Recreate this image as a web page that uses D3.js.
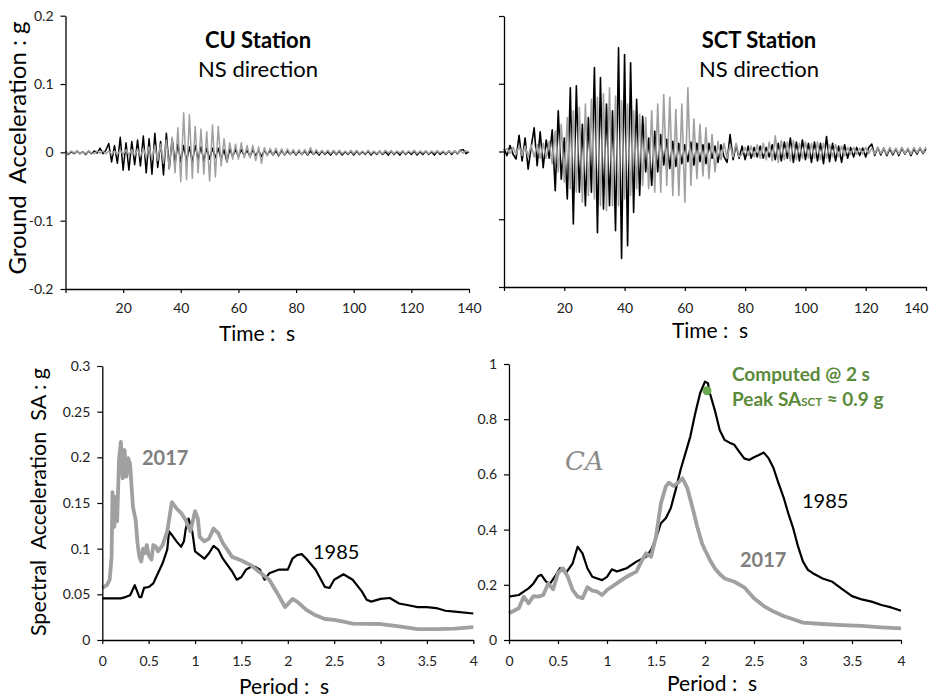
<!DOCTYPE html>
<html>
<head>
<meta charset="utf-8">
<script src="https://cdn.jsdelivr.net/npm/d3@7"></script>
<style>
body { margin: 0; background: #fff; }
svg text { font-family: Lato, "Open Sans", sans-serif; }
</style>
</head>
<body>
<svg width="929" height="700"></svg>
<script>
'use strict';

// ground acceleration (g), one sample per second, t = 0..140 s
const dt = 1;
const cu85 = [
  0.002,-0.003,0.001,-0.002,0.002,-0.002,0.001,-0.003,0.002,-0.002,
  0.002,-0.001,0.006,-0.002,0.003,0.013,-0.014,0.010,-0.016,0.022,
  -0.026,0.014,-0.026,0.016,-0.018,0.018,-0.020,0.024,-0.030,0.020,
  -0.032,0.028,-0.022,0.016,-0.033,0.028,-0.024,0.020,-0.016,0.012,
  -0.014,0.010,-0.012,0.008,-0.014,0.010,-0.010,0.008,-0.012,0.006,
  -0.010,0.006,-0.008,0.006,-0.010,0.004,-0.014,0.005,-0.006,0.004,
  -0.006,0.004,-0.005,0.003,-0.006,0.004,-0.005,0.003,-0.006,0.003,
  -0.004,0.003,-0.004,0.002,-0.005,0.003,-0.004,0.002,-0.003,0.002,
  -0.004,0.002,-0.003,0.002,-0.004,0.002,-0.003,0.001,-0.004,0.002,
  -0.003,0.001,-0.004,0.002,-0.003,0.002,-0.004,0.001,-0.003,0.002,
  -0.004,0.002,-0.003,0.001,-0.003,0.002,-0.004,0.001,-0.003,0.002,
  -0.003,0.001,-0.004,0.002,-0.003,0.001,-0.004,0.002,-0.003,0.001,
  -0.003,0.002,-0.004,0.001,-0.003,0.002,-0.003,0.001,-0.004,0.002,
  -0.003,0.001,-0.003,0.002,-0.003,0.002,-0.002,0.003,0.004,-0.002,
  0.001];
const cu17 = [
  0.001,-0.002,0.002,-0.001,0.002,-0.002,0.001,-0.002,0.002,-0.001,
  -0.002,0.002,-0.001,0.002,-0.002,0.002,-0.003,0.002,-0.003,0.003,
  -0.003,0.004,-0.004,0.004,-0.005,0.005,-0.006,0.006,-0.008,0.008,
  -0.010,0.010,-0.012,0.012,-0.016,0.018,-0.024,0.022,-0.030,0.036,
  -0.043,0.058,-0.040,0.055,-0.038,0.038,-0.030,0.034,-0.032,0.030,
  -0.042,0.040,-0.036,0.038,-0.020,0.020,-0.014,0.014,-0.010,0.012,
  -0.010,0.014,-0.008,0.010,-0.008,0.010,-0.012,0.008,-0.016,0.007,
  -0.005,0.006,-0.004,0.006,-0.004,0.005,-0.004,0.005,-0.003,0.004,
  -0.003,0.004,-0.003,0.004,-0.003,0.007,-0.003,0.004,-0.002,0.003,
  -0.002,0.003,-0.002,0.003,-0.002,0.003,-0.002,0.002,-0.002,0.003,
  -0.002,0.003,-0.002,0.002,-0.002,0.003,-0.002,0.002,-0.002,0.002,
  -0.002,0.003,-0.001,0.002,-0.002,0.002,-0.001,0.002,-0.002,0.002,
  -0.001,0.003,-0.002,0.002,-0.001,0.002,-0.002,0.002,-0.001,0.002,
  -0.001,0.002,-0.002,0.002,-0.001,0.002,-0.001,0.002,-0.001,0.002,
  0.001];
const sct85 = [
  0.004,-0.006,0.009,-0.004,-0.011,0.024,-0.014,0.020,-0.026,0.006,
  0.035,-0.021,0.029,-0.024,0.017,-0.010,0.032,-0.058,0.060,-0.041,
  0.020,-0.070,0.094,-0.107,0.097,-0.060,0.040,-0.080,0.050,-0.060,
  0.124,-0.120,0.109,-0.085,0.070,-0.080,0.060,-0.117,0.153,-0.158,
  0.143,-0.139,0.131,-0.090,0.077,-0.065,0.052,-0.030,0.020,-0.050,
  0.030,-0.030,0.025,-0.020,0.018,-0.025,0.015,-0.022,0.012,-0.018,
  0.010,-0.015,0.014,-0.020,0.012,-0.015,0.010,-0.018,0.012,-0.010,
  0.008,-0.016,0.010,-0.008,-0.016,0.025,-0.012,0.010,-0.010,0.008,
  -0.012,0.008,-0.010,0.006,-0.008,0.008,-0.010,0.006,-0.008,0.010,
  -0.012,0.012,-0.014,0.014,-0.010,0.020,-0.016,0.014,-0.014,0.017,
  -0.012,0.012,-0.016,0.014,-0.014,0.012,-0.018,0.022,-0.015,0.012,
  -0.014,0.008,-0.016,0.010,-0.010,0.006,-0.008,0.006,-0.006,0.005,
  -0.008,0.006,0.011,-0.006,0.006,-0.005,0.005,-0.006,0.004,-0.005,
  0.004,-0.006,0.005,-0.004,0.004,-0.006,0.004,-0.004,0.005,-0.003,
  0.004];
const sct17 = [
  0.002,0.004,-0.003,0.006,-0.004,0.008,-0.006,0.008,-0.008,0.010,
  -0.008,0.010,-0.010,0.012,-0.010,0.015,-0.018,0.030,-0.030,0.040,
  -0.045,0.050,-0.055,0.060,-0.060,0.065,-0.075,0.070,-0.065,0.077,
  -0.070,0.080,-0.080,0.085,-0.087,0.094,-0.080,0.082,-0.080,0.075,
  -0.070,0.070,-0.065,0.060,-0.055,0.055,-0.050,0.050,-0.055,0.060,
  -0.060,0.070,-0.060,0.084,-0.050,0.080,-0.065,0.062,-0.065,0.070,
  -0.075,0.094,-0.050,0.048,-0.040,0.040,-0.036,0.035,-0.040,0.025,
  -0.030,0.015,-0.012,0.012,-0.010,0.010,-0.008,0.012,-0.008,-0.004,
  0.006,-0.006,0.008,-0.008,0.010,-0.010,0.012,-0.012,0.014,-0.014,
  0.023,-0.016,0.016,-0.012,0.014,-0.014,0.016,-0.012,0.012,-0.010,
  0.014,-0.010,0.012,-0.010,0.014,-0.012,0.012,-0.010,0.010,-0.008,
  0.010,-0.008,0.008,-0.006,0.006,-0.004,0.006,-0.004,0.005,-0.004,
  0.006,-0.003,0.005,-0.004,0.006,-0.003,0.005,-0.004,0.006,-0.003,
  0.005,-0.004,0.006,-0.003,0.005,-0.004,0.006,-0.002,0.006,-0.002,
  0.007];

// response spectra: period (s) and SA (g)
const cu17T = [0,0.05,0.08,0.1,0.11,0.13,0.15,0.16,0.18,0.2,0.22,0.24,0.26,0.28,0.3,0.33,0.36,0.38,0.4,0.42,0.44,0.46,0.48,0.5,0.53,0.55,0.58,0.6,0.65,0.7,0.75,0.8,0.85,0.9,0.95,1.0,1.03,1.05,1.1,1.15,1.2,1.25,1.3,1.4,1.5,1.6,1.7,1.8,1.9,1.97,2.05,2.1,2.2,2.3,2.4,2.5,2.6,2.7,3.0,3.2,3.4,3.6,3.8,4.0];
const cu17SA = [0.057,0.060,0.066,0.091,0.162,0.124,0.157,0.130,0.197,0.217,0.177,0.208,0.179,0.199,0.192,0.146,0.131,0.106,0.091,0.086,0.100,0.095,0.104,0.093,0.088,0.104,0.102,0.097,0.104,0.119,0.151,0.144,0.139,0.131,0.119,0.141,0.133,0.113,0.108,0.111,0.122,0.117,0.106,0.091,0.087,0.082,0.074,0.066,0.049,0.036,0.045,0.042,0.033,0.027,0.023,0.022,0.020,0.018,0.0175,0.015,0.012,0.012,0.0124,0.014];
const cu85T = [0,0.2,0.25,0.3,0.35,0.4,0.42,0.45,0.5,0.55,0.6,0.65,0.7,0.72,0.75,0.8,0.85,0.88,0.9,0.93,0.97,1.0,1.1,1.15,1.2,1.25,1.3,1.35,1.4,1.45,1.5,1.55,1.6,1.65,1.7,1.75,1.8,1.9,2.0,2.05,2.1,2.15,2.2,2.3,2.4,2.45,2.5,2.6,2.7,2.8,2.85,2.9,3.0,3.1,3.2,3.3,3.4,3.5,3.6,3.7,3.8,4.0];
const cu85SA = [0.0456,0.0456,0.047,0.049,0.060,0.047,0.047,0.057,0.058,0.062,0.073,0.084,0.099,0.119,0.115,0.108,0.102,0.108,0.122,0.133,0.119,0.097,0.089,0.095,0.103,0.099,0.089,0.082,0.075,0.066,0.069,0.077,0.080,0.080,0.077,0.066,0.073,0.077,0.077,0.089,0.093,0.094,0.089,0.077,0.058,0.057,0.066,0.072,0.066,0.053,0.044,0.042,0.045,0.046,0.040,0.038,0.036,0.036,0.035,0.032,0.031,0.029];
const sct85T = [0,0.1,0.15,0.2,0.25,0.3,0.33,0.38,0.42,0.48,0.52,0.58,0.65,0.7,0.75,0.8,0.85,0.9,0.95,1.0,1.05,1.1,1.15,1.2,1.3,1.4,1.45,1.5,1.55,1.6,1.65,1.7,1.75,1.8,1.85,1.9,1.95,2.0,2.03,2.05,2.1,2.15,2.2,2.25,2.3,2.35,2.4,2.45,2.5,2.55,2.6,2.65,2.7,2.75,2.8,2.85,2.9,2.95,3.0,3.05,3.1,3.2,3.3,3.4,3.5,3.6,3.7,3.8,3.9,4.0];
const sct85SA = [0.157,0.163,0.175,0.187,0.205,0.232,0.236,0.211,0.205,0.236,0.26,0.242,0.278,0.338,0.314,0.26,0.229,0.223,0.217,0.229,0.256,0.248,0.254,0.26,0.284,0.302,0.326,0.368,0.423,0.441,0.477,0.543,0.616,0.676,0.737,0.821,0.894,0.936,0.930,0.894,0.833,0.761,0.725,0.715,0.707,0.682,0.658,0.652,0.662,0.670,0.679,0.658,0.622,0.568,0.519,0.459,0.405,0.338,0.284,0.254,0.242,0.223,0.211,0.184,0.159,0.147,0.139,0.127,0.118,0.106];
const sct17T = [0,0.1,0.15,0.2,0.25,0.3,0.35,0.4,0.45,0.5,0.55,0.6,0.65,0.7,0.75,0.8,0.85,0.9,0.95,1.0,1.1,1.2,1.3,1.35,1.4,1.45,1.5,1.55,1.6,1.63,1.68,1.72,1.77,1.82,1.87,1.92,1.97,2.0,2.05,2.1,2.15,2.2,2.3,2.4,2.5,2.6,2.7,2.8,2.9,3.0,3.2,3.4,3.6,3.8,4.0];
const sct17SA = [0.097,0.115,0.157,0.133,0.159,0.157,0.163,0.205,0.184,0.242,0.26,0.229,0.181,0.157,0.151,0.191,0.179,0.175,0.163,0.181,0.205,0.229,0.248,0.284,0.314,0.302,0.374,0.495,0.556,0.570,0.558,0.568,0.586,0.550,0.483,0.411,0.350,0.326,0.290,0.260,0.239,0.223,0.211,0.191,0.151,0.123,0.103,0.087,0.075,0.063,0.058,0.054,0.051,0.046,0.042];
const peakSCT = [2.02, 0.903];

// ticks
const timeTicks = [0, 20, 40, 60, 80, 100, 120, 140];
const accTicks = [-0.2, -0.1, 0, 0.1, 0.2];
const periodTicks = [0, 0.5, 1, 1.5, 2, 2.5, 3, 3.5, 4];
const saTicksCU = [0, 0.05, 0.1, 0.15, 0.2, 0.25, 0.3];
const saTicksSCT = [0, 0.2, 0.4, 0.6, 0.8, 1];

const gray = "#a0a0a0";
const green = "#5a8a3a";

let svg = d3.select("svg");

function axes(g, x, y, o) {
  let xa = g.append("g")
    .attr("transform", `translate(0,${y.range()[0]})`)
    .call(d3.axisBottom(x).tickValues(o.xTicks).tickSize(4).tickSizeOuter(0)
      .tickPadding(o.xPad).tickFormat(o.xFmt));
  g.append("g")
    .attr("transform", `translate(${x.range()[0]},0)`)
    .call(d3.axisLeft(y).tickValues(o.yTicks).tickSize(5).tickSizeOuter(0)
      .tickPadding(7).tickFormat(o.yFmt));
  g.selectAll(".domain").attr("stroke", "#000").attr("stroke-width", 1.3);
  g.selectAll(".tick line").attr("stroke", "#000").attr("stroke-width", 1.2);
  g.selectAll(".tick text").attr("fill", "#222")
    .style("font-family", "Lato, sans-serif").style("font-size", "14px");
  return xa;
}

function trace(g, x, y, values, color, width) {
  g.append("path")
    .datum(values)
    .attr("fill", "none")
    .attr("stroke", color)
    .attr("stroke-width", width)
    .attr("stroke-linejoin", "round")
    .attr("d", d3.line().x((d, i) => x(i * dt)).y(d => y(d)));
}

function spectrum(g, x, y, periods, sa, color, width) {
  g.append("path")
    .datum(periods.map((p, i) => [p, sa[i]]))
    .attr("fill", "none")
    .attr("stroke", color)
    .attr("stroke-width", width)
    .attr("stroke-linejoin", "round")
    .attr("d", d3.line().x(d => x(d[0])).y(d => y(d[1])));
}

function label(txt, x, y, opt) {
  let t = svg.append("text")
    .attr("x", x).attr("y", y)
    .attr("text-anchor", opt.anchor || "middle")
    .attr("font-size", opt.size || 20)
    .attr("font-weight", opt.bold ? "bold" : "normal")
    .attr("fill", opt.color || "#000")
    .style("white-space", "pre")
    .text(txt);
  if (opt.rotate) t.attr("transform", `rotate(-90,${x},${y})`);
  return t;
}

// ---- top left: CU time history
let xCU = d3.scaleLinear().domain([0, 140]).range([65.5, 469]);
let yCU = d3.scaleLinear().domain([-0.2, 0.2]).range([289, 15.7]);
let gCU = svg.append("g");
trace(gCU, xCU, yCU, cu85, "#000", 1.5);
trace(gCU, xCU, yCU, cu17, gray, 1.5);
axes(gCU, xCU, yCU, {xTicks: timeTicks, xPad: 10, xFmt: d => d === 0 ? "" : d,
  yTicks: accTicks, yFmt: d => String(d)});

// ---- top right: SCT time history
let xSCT = d3.scaleLinear().domain([0, 140]).range([504, 926]);
let ySCT = d3.scaleLinear().domain([-0.2, 0.2]).range([287, 16]);
let gSCT = svg.append("g");
trace(gSCT, xSCT, ySCT, sct85, "#000", 1.6);
trace(gSCT, xSCT, ySCT, sct17, gray, 1.6);
let xaSCT = axes(gSCT, xSCT, ySCT, {xTicks: timeTicks, xPad: 12, xFmt: d => d === 0 ? "" : d,
  yTicks: accTicks, yFmt: () => ""});
// last label sits against the page edge
xaSCT.selectAll(".tick text").filter(d => d === 140)
  .attr("text-anchor", "end").attr("x", 2);

// ---- bottom left: CU spectra
let xSaCU = d3.scaleLinear().domain([0, 4]).range([102.3, 473.3]);
let ySaCU = d3.scaleLinear().domain([0, 0.3]).range([640, 366]);
let gSaCU = svg.append("g");
spectrum(gSaCU, xSaCU, ySaCU, cu85T, cu85SA, "#000", 2.2);
spectrum(gSaCU, xSaCU, ySaCU, cu17T, cu17SA, gray, 3.8);
axes(gSaCU, xSaCU, ySaCU, {xTicks: periodTicks, xPad: 12, xFmt: d => String(d),
  yTicks: saTicksCU, yFmt: d => String(d)});

// ---- bottom right: SCT spectra
let xSaSCT = d3.scaleLinear().domain([0, 4]).range([509, 901]);
let ySaSCT = d3.scaleLinear().domain([0, 1]).range([640, 364]);
let gSaSCT = svg.append("g");
spectrum(gSaSCT, xSaSCT, ySaSCT, sct85T, sct85SA, "#000", 2.2);
spectrum(gSaSCT, xSaSCT, ySaSCT, sct17T, sct17SA, gray, 3.8);
axes(gSaSCT, xSaSCT, ySaSCT, {xTicks: periodTicks, xPad: 12, xFmt: d => String(d),
  yTicks: saTicksSCT, yFmt: d => String(d)});
gSaSCT.append("circle")
  .attr("cx", xSaSCT(peakSCT[0])).attr("cy", ySaSCT(peakSCT[1]))
  .attr("r", 4.5).attr("fill", "#6aa84f");

// ---- titles and labels
label("CU Station", 258, 48, {bold: true, size: 22});
label("NS direction", 258, 77, {size: 22});
label("SCT Station", 759, 48, {bold: true, size: 22});
label("NS direction", 759, 77, {size: 22});

label("Ground  Acceleration : g", 26, 148, {size: 24, rotate: true});
label("Spectral  Acceleration  SA : g", 46, 502, {size: 21.5, rotate: true});

label("Time :  s", 257, 341, {size: 21});
label("Time :  s", 710, 338, {size: 21});
label("Period :  s", 284, 694, {size: 21});
label("Period :  s", 712, 691, {size: 21});

label("2017", 142, 465, {bold: true, size: 20, color: "#7f7f7f", anchor: "start"});
label("1985", 313, 559, {size: 20, anchor: "start"});
label("1985", 802, 508, {size: 20, anchor: "start"});
label("2017", 740, 567, {bold: true, size: 20, color: "#7f7f7f", anchor: "start"});

label("Computed @ 2 s", 732, 381, {bold: true, size: 19, color: green, anchor: "start"});
let peakTxt = label("Peak SA", 732, 406, {bold: true, size: 19, color: green, anchor: "start"});
peakTxt.append("tspan").attr("font-size", 11.5).text("SCT");
peakTxt.append("tspan").text(" \u2248 0.9 g");

svg.append("text")
  .attr("x", 565).attr("y", 470)
  .attr("font-size", 26)
  .attr("font-style", "italic")
  .attr("fill", "#8a8a8a")
  .style("font-family", "'DejaVu Serif', serif")
  .text("CA");
</script>
</body>
</html>
